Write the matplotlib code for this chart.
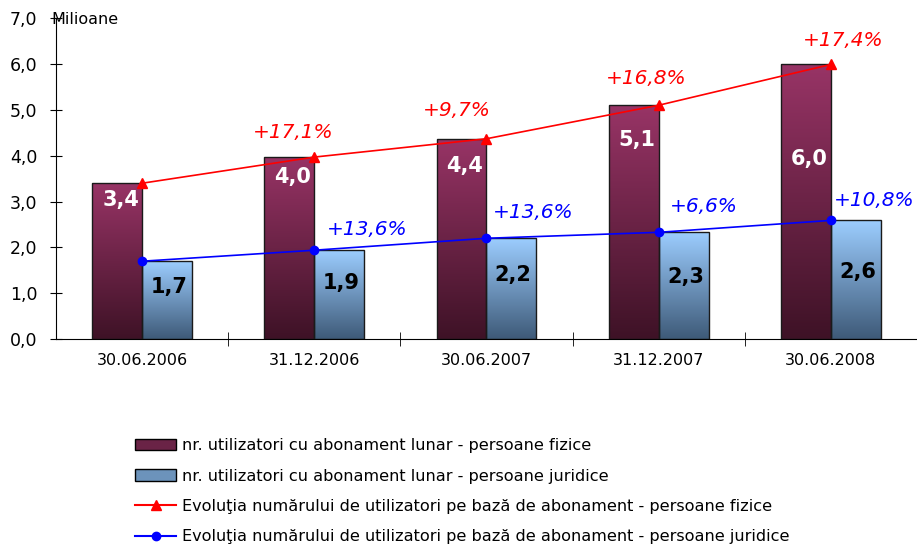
import numpy as np
import matplotlib.pyplot as plt
from matplotlib.lines import Line2D
from matplotlib.patches import Patch
from matplotlib.colors import LinearSegmentedColormap

# data (millions of users)
dates = ["30.06.2006", "31.12.2006", "30.06.2007", "31.12.2007", "30.06.2008"]
fizice = [3.4, 3.97, 4.37, 5.1, 5.99]
juridice = [1.7, 1.94, 2.2, 2.33, 2.59]
fizice_lbl = ["3,4", "4,0", "4,4", "5,1", "6,0"]
juridice_lbl = ["1,7", "1,9", "2,2", "2,3", "2,6"]
growth_fizice = ["+17,1%", "+9,7%", "+16,8%", "+17,4%"]
growth_juridice = ["+13,6%", "+13,6%", "+6,6%", "+10,8%"]

# label placement (as on the original)
fiz_lbl_y = [3.03, 3.53, 3.77, 4.34, 3.92]
jur_lbl_y = [1.13, 1.22, 1.39, 1.35, 1.46]
gf_dx = [-0.12, -0.17, -0.07, 0.07]
gf_y = [4.51, 4.99, 5.69, 6.51]
gj_dx = [0.31, 0.27, 0.26, 0.25]
gj_y = [2.40, 2.77, 2.90, 3.03]

plt.rcParams['font.family'] = ['DejaVu Sans']

fig = plt.figure(figsize=(9.17, 5.48), dpi=100)
ax = fig.add_axes([0.061, 0.381, 0.939, 0.586])

x = np.arange(len(dates))
w = 0.29

maroon = LinearSegmentedColormap.from_list("m", ["#3e1226", "#983466"])
blue = LinearSegmentedColormap.from_list("b", ["#3e5a78", "#9ccdff"])
grad = np.linspace(0, 1, 256).reshape(-1, 1)

def gbar(xs, hs, cmap):
    bars = ax.bar(xs, hs, width=w, color="none", edgecolor="#1a1a1a", linewidth=1.0, zorder=3)
    for b in bars:
        x0, y0 = b.get_x(), b.get_y()
        im = ax.imshow(grad, cmap=cmap, origin="lower", aspect="auto",
                       extent=[x0, x0 + b.get_width(), y0, y0 + b.get_height()], zorder=2)
        im.set_clip_path(b)
    return bars

gbar(x - w / 2, fizice, maroon)
gbar(x + w / 2, juridice, blue)

ax.plot(x, fizice, color="#ff0000", lw=1.2, marker="^", ms=7, zorder=4)
ax.plot(x, juridice, color="#0000ff", lw=1.2, marker="o", ms=6, zorder=4)

for i in range(len(dates)):
    ax.text(x[i] - w / 2 + 0.02, fiz_lbl_y[i], fizice_lbl[i], color="white", fontsize=15,
            fontweight="bold", ha="center", va="center", zorder=5)
    ax.text(x[i] + w / 2 + 0.01, jur_lbl_y[i], juridice_lbl[i], color="black", fontsize=15,
            fontweight="bold", ha="center", va="center", zorder=5)

for i in range(len(growth_fizice)):
    ax.text(x[i + 1] + gf_dx[i], gf_y[i], growth_fizice[i], color="#ff0000", fontsize=14.5,
            fontstyle="italic", ha="center", va="center", zorder=5)
    ax.text(x[i + 1] + gj_dx[i], gj_y[i], growth_juridice[i], color="#0000ff", fontsize=14.5,
            fontstyle="italic", ha="center", va="center", zorder=5)

ax.set_xlim(-0.5, 4.5)
ax.set_ylim(0, 7)
ax.set_yticks(np.arange(0, 8))
ax.set_yticklabels([f"{v:.1f}".replace(".", ",") for v in range(0, 8)], fontsize=12.5)
ax.set_xticks(x)
ax.set_xticklabels(dates, fontsize=11.5)
ax.set_xticks(np.arange(0.5, 4.6, 1), minor=True)
ax.tick_params(axis="x", which="major", length=0, pad=10)
ax.tick_params(axis="x", which="minor", direction="inout", length=10)
ax.tick_params(axis="y", direction="inout", length=9, pad=9)
for s in ["top", "right"]:
    ax.spines[s].set_visible(False)
ax.text(-0.525, 6.97, "Milioane", fontsize=11.5, va="center", ha="left")

handles = [
    Patch(facecolor="#6a2346", edgecolor="black", label="nr. utilizatori cu abonament lunar - persoane fizice"),
    Patch(facecolor="#6c93bb", edgecolor="black", label="nr. utilizatori cu abonament lunar - persoane juridice"),
    Line2D([], [], color="#ff0000", marker="^", ms=7, label="Evoluţia numărului de utilizatori pe bază de abonament - persoane fizice"),
    Line2D([], [], color="#0000ff", marker="o", ms=6, label="Evoluţia numărului de utilizatori pe bază de abonament - persoane juridice"),
]
fig.legend(handles=handles, loc="upper left", bbox_to_anchor=(0.138, 0.215), frameon=False,
           fontsize=11.6, handlelength=2.6, handletextpad=0.35, labelspacing=0.95, borderpad=0)

fig.savefig("out.png", dpi=100)
